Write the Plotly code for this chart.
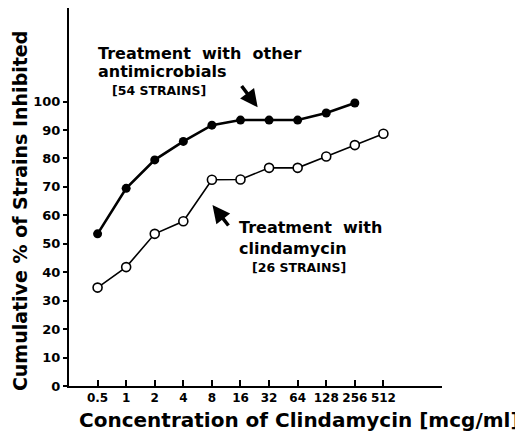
import plotly.graph_objects as go

concentrations = ["0.5", "1", "2", "4", "8", "16", "32", "64", "128", "256", "512"]
other_antimicrobials = [53.5, 69.5, 79.5, 86.0, 91.7, 93.5, 93.5, 93.5, 96.0, 99.5]
clindamycin = [34.6, 41.8, 53.5, 57.9, 72.5, 72.6, 76.7, 76.7, 80.7, 84.7, 88.7]
y_ticks = [0, 10, 20, 30, 40, 50, 60, 70, 80, 90, 100]

FONT = "DejaVu Sans"
fig = go.Figure()

fig.add_trace(go.Scatter(
    x=concentrations[:len(other_antimicrobials)], y=other_antimicrobials,
    mode="lines+markers",
    line=dict(color="black", width=2.6),
    marker=dict(symbol="circle", size=9, color="black"),
    showlegend=False, cliponaxis=False,
))
fig.add_trace(go.Scatter(
    x=concentrations, y=clindamycin,
    mode="lines+markers",
    line=dict(color="black", width=1.6),
    marker=dict(symbol="circle", size=9, color="white", line=dict(color="black", width=1.6)),
    showlegend=False, cliponaxis=False,
))

def txt(x, y, s, size):
    fig.add_annotation(x=x, y=y, xref="x", yref="y", text=s, showarrow=False,
                       xanchor="left", yanchor="middle", xshift=-2,
                       font=dict(family=FONT, size=size, color="black"))

txt(0.0, 117, "<b>Treatment  with  other</b>", 16)
txt(0.0, 110.6, "<b>antimicrobials</b>", 16)
txt(0.52, 104, "<b>[54 STRAINS]</b>", 12.5)
txt(4.96, 55.9, "<b>Treatment  with</b>", 16)
txt(4.96, 48.5, "<b>clindamycin</b>", 16)
txt(5.41, 41.8, "<b>[26 STRAINS]</b>", 12.5)

fig.add_annotation(x=5.6, y=98.0, ax=5.0, ay=106.0, xref="x", yref="y", axref="x", ayref="y",
                   text="", showarrow=True, arrowhead=2, arrowsize=1.0, arrowwidth=3.5, arrowcolor="black")
fig.add_annotation(x=4.02, y=63.6, ax=4.62, ay=55.9, xref="x", yref="y", axref="x", ayref="y",
                   text="", showarrow=True, arrowhead=2, arrowsize=1.0, arrowwidth=3.5, arrowcolor="black")

# axis titles as annotations (paper coords are relative to the plot area)
fig.add_annotation(x=0.617, y=-0.090, xref="paper", yref="paper",
                   text="<b>Concentration of Clindamycin [mcg/ml]</b>", showarrow=False,
                   xanchor="center", yanchor="middle",
                   font=dict(family=FONT, size=20, color="black"))
fig.add_annotation(x=-0.131, y=0.463, xref="paper", yref="paper",
                   text="<b>Cumulative % of Strains Inhibited</b>", showarrow=False, textangle=-90,
                   xanchor="center", yanchor="middle", borderpad=0,
                   font=dict(family=FONT, size=19, color="black"))

fig.update_xaxes(
    type="category", categoryorder="array", categoryarray=concentrations,
    range=[-1, 12.05], automargin=False,
    showline=True, linecolor="black", linewidth=2,
    ticks="inside", ticklen=6, tickwidth=1.5, tickcolor="black",
    showgrid=False, zeroline=False,
    tickvals=concentrations, ticktext=[f"<b>{c}</b>" for c in concentrations],
    tickfont=dict(family=FONT, size=12, color="black"),
)
fig.update_yaxes(
    range=[0, 132.9], automargin=False,
    tickvals=y_ticks, ticktext=[f"<b>{v}</b>" for v in y_ticks],
    showline=True, linecolor="black", linewidth=2,
    ticks="outside", ticklen=4, tickwidth=1.5, tickcolor="black",
    showgrid=False, zeroline=False,
    tickfont=dict(family=FONT, size=13, color="black"),
)

# the page body adds an 8px offset, so the figure is drawn 8px smaller
fig.update_layout(
    width=515, height=425,
    margin=dict(l=61, r=81, t=0, b=47),
    plot_bgcolor="white", paper_bgcolor="white",
)

fig.write_html("out.html")
